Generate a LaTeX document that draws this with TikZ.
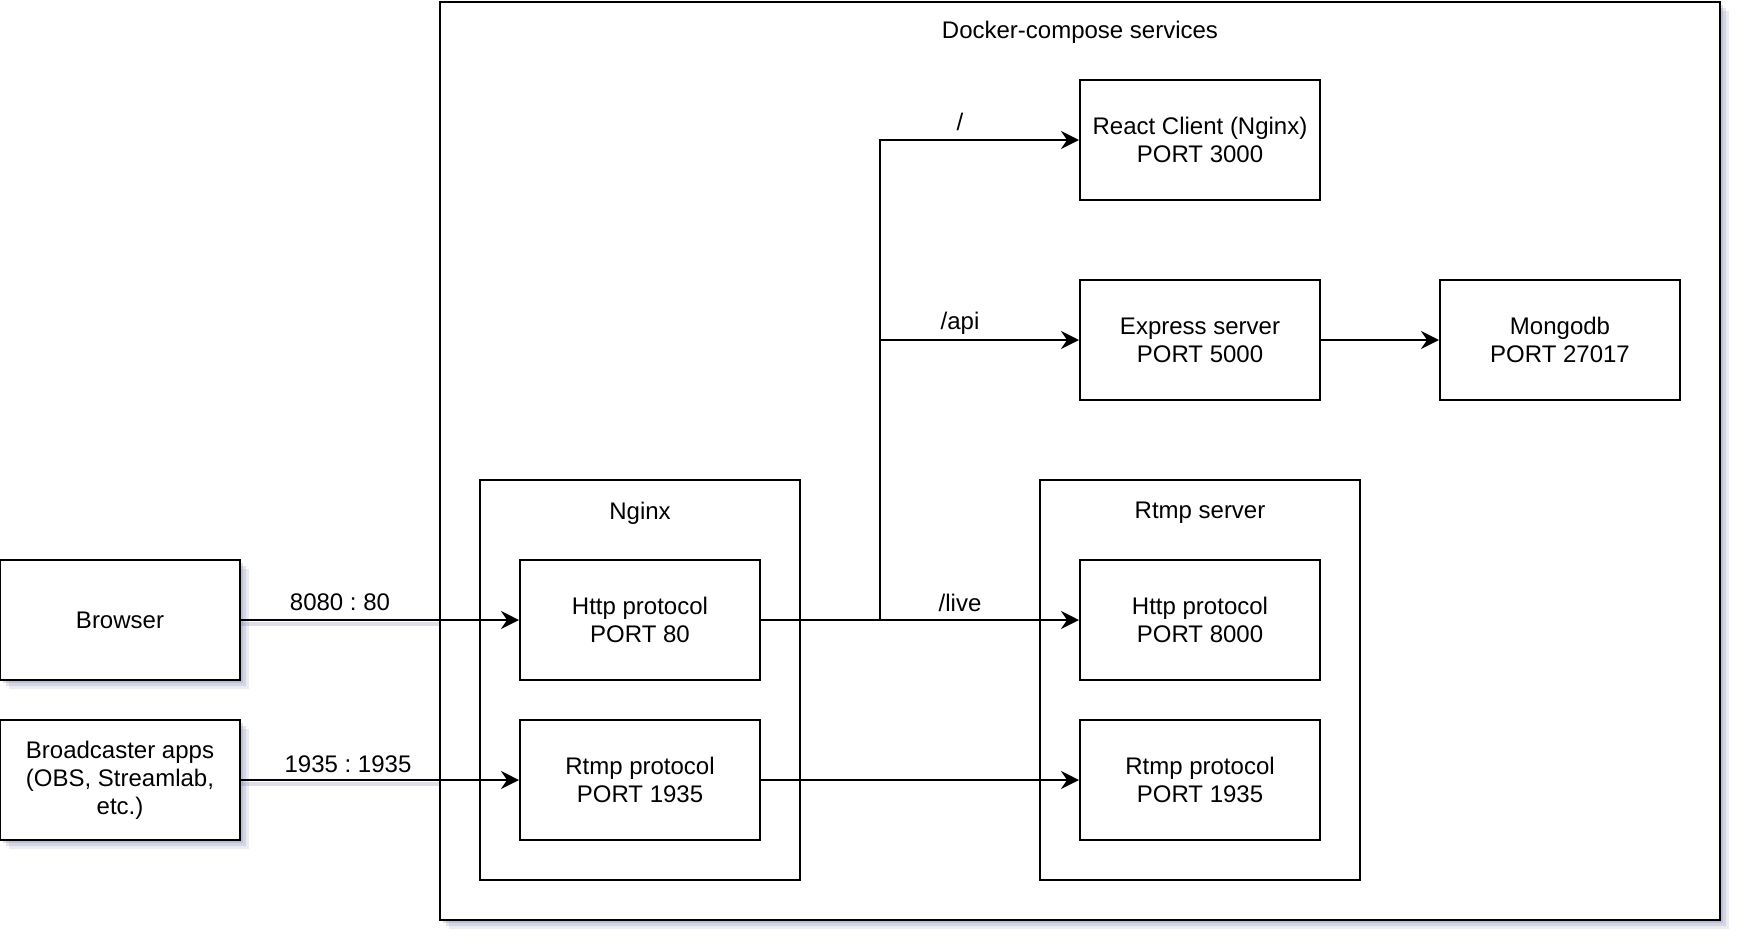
\documentclass[tikz,border=0pt]{standalone}
\usepackage{fontspec}
\setmainfont{Liberation Sans}
\frenchspacing
\usetikzlibrary{arrows.meta,shadows}

\definecolor{shadowc}{RGB}{120,125,170}

\begin{document}
\begin{tikzpicture}[x=1pt,y=-1pt,
  box/.style={draw,line width=1pt,fill=white,minimum width=120pt,minimum height=60pt,
    inner sep=0pt,align=center,font=\fontsize{12}{14}\selectfont},
  shbox/.style={box,
    drop shadow={shadow xshift=4.5pt,shadow yshift=-4.5pt,fill=shadowc,opacity=0.15},
    drop shadow={shadow xshift=3pt,shadow yshift=-3pt,fill=shadowc,opacity=0.2},
    drop shadow={shadow xshift=1.5pt,shadow yshift=-1.5pt,fill=shadowc,opacity=0.25}},
  lbl/.style={font=\fontsize{12}{14}\selectfont,inner sep=0pt},
  link/.style={line width=1pt,-{Stealth[length=9pt,width=9pt,inset=3pt]}},
  edgeshadow/.style={line width=2pt,shadowc,opacity=0.25}]
\useasboundingbox (0,0) rectangle (872,472);

\node[shbox,minimum width=640pt,minimum height=459pt] (compose) at (540,230.5) {};
\node[lbl] (composetitle) at (540,16) {Docker-compose services};

\node[box,minimum width=160pt,minimum height=200pt] (nginx) at (320,340) {};
\node[lbl] (nginxtitle) at (320,256.5) {Nginx};
\node[box,minimum width=160pt,minimum height=200pt] (rtmpsrv) at (600,340) {};
\node[lbl] (rtmpsrvtitle) at (600,256.5) {Rtmp server};

\node[box] (react) at (600,70) {React Client (Nginx)\\PORT 3000};
\node[box] (express) at (600,170) {Express server\\PORT 5000};
\node[box] (mongo) at (780,170) {Mongodb\\PORT 27017};
\node[box] (http80) at (320,310) {Http protocol\\PORT 80};
\node[box] (rtmp1935) at (320,390) {Rtmp protocol\\PORT 1935};
\node[box] (http8000) at (600,310) {Http protocol\\PORT 8000};
\node[box] (srvrtmp1935) at (600,390) {Rtmp protocol\\PORT 1935};

\node[shbox] (browser) at (60,310) {Browser};
\node[shbox] (broadcaster) at (60,390) {Broadcaster apps\\(OBS, Streamlab,\\etc.)};

\draw[edgeshadow] ([yshift=-2pt]browser.east) -- ([yshift=-2pt]browser.east -| compose.west);
\draw[edgeshadow] ([yshift=-2pt]broadcaster.east) -- ([yshift=-2pt]broadcaster.east -| compose.west);

\draw[link] (browser) -- (http80);
\node[lbl] (browserport) at (170,301) {8080 : 80};
\draw[link] (broadcaster) -- (rtmp1935);
\node[lbl] (broadcasterport) at (174,382) {1935 : 1935};

\coordinate (split) at (440,310);
\draw[link] (http80) -- (http8000);
\draw[link] (split) |- (react);
\draw[link] (split) |- (express);
\draw[link] (express) -- (mongo);
\draw[link] (rtmp1935) -- (srvrtmp1935);
\node[lbl] (rootpath) at (480,61) {/};
\node[lbl] (apipath) at (480,161.5) {/api};
\node[lbl] (livopath) at (480,301.5) {/live};
\end{tikzpicture}
\end{document}
